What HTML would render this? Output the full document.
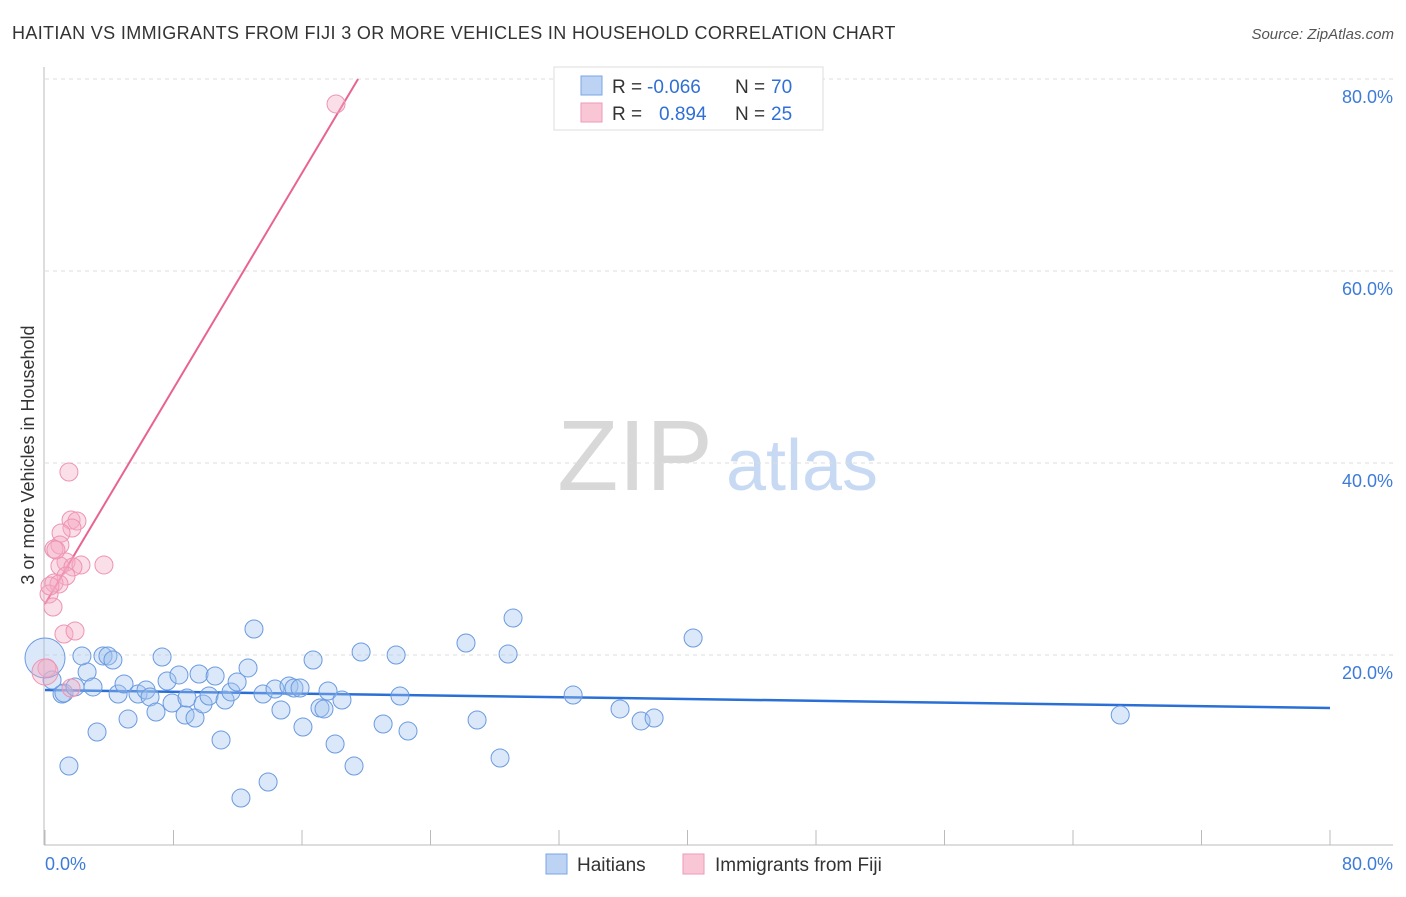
<!DOCTYPE html>
<html><head><meta charset="utf-8"><style>
body{margin:0;background:#fff;font-family:"Liberation Sans",sans-serif;}
svg text{font-family:"Liberation Sans",sans-serif;}
</style></head><body>
<svg id="chart" width="1406" height="892" xmlns="http://www.w3.org/2000/svg">
<text x="12" y="39" font-size="18" fill="#333" letter-spacing="0.35">HAITIAN VS IMMIGRANTS FROM FIJI 3 OR MORE VEHICLES IN HOUSEHOLD CORRELATION CHART</text>
<text x="1394" y="39" font-size="15" fill="#555" text-anchor="end" font-style="italic">Source: ZipAtlas.com</text>
<text transform="translate(34,455) rotate(-90)" font-size="18" fill="#333" text-anchor="middle">3 or more Vehicles in Household</text>
<g>
<text x="635" y="490" font-size="100" fill="#d8d8d8" text-anchor="middle" font-family="Liberation Serif, serif">ZIP</text>
<text x="802" y="490" font-size="72" fill="#c8daf3" text-anchor="middle">atlas</text>
</g>
<g id="grid"></g><g id="axes"></g><g id="lines"></g><g id="points"></g>
<g>
<rect x="554" y="67" width="269" height="63" fill="#fff" stroke="#ddd"/>
<rect x="581" y="76" width="21" height="19" fill="#bcd3f3" stroke="#7aa5e4"/>
<rect x="581" y="103" width="21" height="19" fill="#f9c6d5" stroke="#ef9ab6"/>
<text x="612" y="93" font-size="19" fill="#333">R = </text><text x="647" y="93" font-size="19" fill="#2f6fd6">-0.066</text>
<text x="735" y="93" font-size="19" fill="#333">N = </text><text x="771" y="93" font-size="19" fill="#2f6fd6">70</text>
<text x="612" y="120" font-size="19" fill="#333">R = </text><text x="659" y="120" font-size="19" fill="#2f6fd6">0.894</text>
<text x="735" y="120" font-size="19" fill="#333">N = </text><text x="771" y="120" font-size="19" fill="#2f6fd6">25</text>
</g>
<g>
<rect x="546" y="854" width="21" height="20" fill="#bcd3f3" stroke="#7aa5e4"/>
<text x="577" y="871" font-size="19" fill="#333">Haitians</text>
<rect x="683" y="854" width="21" height="20" fill="#f9c6d5" stroke="#ef9ab6"/>
<text x="715" y="871" font-size="19" fill="#333">Immigrants from Fiji</text>
</g>
</svg>
<script>
const blueX=[1.49,3.24,1.06,1.18,2.62,2.30,1.87,2.99,3.61,3.92,4.23,4.55,4.92,5.17,5.79,6.29,6.54,6.91,7.29,7.60,7.91,8.34,8.72,8.84,9.34,9.59,9.84,10.21,10.59,10.96,11.21,11.58,11.96,12.20,12.64,13.01,13.57,13.89,14.32,14.69,15.19,15.50,15.88,16.06,16.69,17.12,17.37,17.62,18.06,18.49,19.24,19.68,21.05,21.86,22.10,22.60,26.21,26.90,28.33,28.83,29.14,32.88,35.80,37.11,37.92,40.35,66.94,0.44,0.0];
const blueY=[8.44,11.98,15.94,16.04,18.23,19.90,16.67,16.67,19.90,19.90,19.48,15.94,16.98,13.33,15.94,16.35,15.63,14.06,19.79,17.29,15.00,17.92,13.75,15.52,13.44,18.02,14.90,15.73,17.81,11.15,15.31,16.15,17.19,5.10,18.65,22.71,15.94,6.77,16.46,14.27,16.77,16.56,16.56,12.50,19.48,14.48,14.38,16.25,10.73,15.31,8.44,20.31,12.81,20.00,15.73,12.08,21.25,13.23,9.27,20.10,23.85,15.83,14.38,13.13,13.44,21.77,13.75,17.40,19.69];
const pinkX=[18.12,1.49,1.62,1.99,1.68,1.00,0.93,0.56,1.31,0.93,2.24,3.67,1.74,1.31,0.56,0.87,0.25,0.50,1.18,1.87,0.12,1.62,0.0,0.68,0.31];
const pinkY=[77.40,39.06,34.06,33.96,33.23,32.71,31.46,31.04,29.69,29.27,29.38,29.38,29.17,28.23,27.50,27.40,26.35,25.00,22.19,22.50,18.65,16.56,18.23,30.94,27.19];
const blueTrend=[16.35,14.48];
const pinkTrend=[25.31,2.806];
const yTicks=[20,40,60,80];
const xTickLabels=["0.0%","80.0%"];
const NS="http://www.w3.org/2000/svg";
const X0=45,X1=1330,Y0=847,PXPER=9.6;
const sx=v=>X0+v/80*(X1-X0);
const sy=v=>Y0-v*PXPER;
function mk(tag,attrs,parent){const e=document.createElementNS(NS,tag);for(const k in attrs)e.setAttribute(k,attrs[k]);document.getElementById(parent).appendChild(e);return e;}
yTicks.forEach(t=>{
 const l=mk('line',{x1:45,x2:1393,y1:sy(t),y2:sy(t),stroke:'#ddd','stroke-dasharray':'4,4'},'grid');
 
 
 const tx=mk('text',{x:1393,y:sy(t)+24,'font-size':18,fill:'#3d7bd9','text-anchor':'end'},'grid');
 tx.textContent=t.toFixed(1)+'%';
 
 
});
const ax=mk('line',{x1:44,x2:44,y1:67,y2:845,stroke:'#bbb'},'axes');


const bx=mk('line',{x1:44,x2:1393,y1:845,y2:845,stroke:'#bbb'},'axes');


for(let i=0;i<=10;i++){const t=mk('line',{x1:sx(i*8),x2:sx(i*8),y1:830,y2:845,stroke:'#bbb'},'axes');
 
 }
[[0,'start',45],[80,'end',1393]].forEach((d,i)=>{const t=mk('text',{x:d[2],y:870,'font-size':18,fill:'#3d7bd9','text-anchor':d[1]},'axes');t.textContent=xTickLabels[i];
 
 });
const bl=mk('line',{x1:sx(0),y1:sy(blueTrend[0]),x2:sx(80),y2:sy(blueTrend[1]),stroke:'#2a6fd6','stroke-width':2.5},'lines');


const xEnd=(80-pinkTrend[0])/pinkTrend[1];
const pl=mk('line',{x1:sx(0),y1:sy(pinkTrend[0]),x2:sx(xEnd),y2:sy(80),stroke:'#e8648f','stroke-width':2},'lines');


blueX.forEach((x,i)=>{const big=i===blueX.length-1;
 const c=mk('circle',{cx:sx(x),cy:sy(blueY[i]),r:big?20:9,fill:'rgba(160,195,240,0.38)',stroke:'#6a9ae0','stroke-width':1},'points');
 
 });
pinkX.forEach((x,i)=>{const big=i===22;
 const c=mk('circle',{cx:sx(x),cy:sy(pinkY[i]),r:big?13:9,fill:'rgba(245,170,195,0.38)',stroke:'#ee93b2','stroke-width':1},'points');
 
 });
</script>
</body></html>
